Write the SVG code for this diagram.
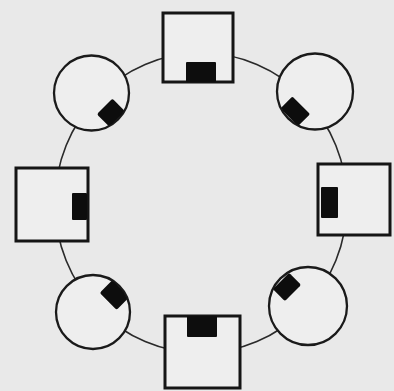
<svg xmlns="http://www.w3.org/2000/svg" width="394" height="391" viewBox="0 0 394 391">
<style>
.bg{fill:#e9e9e9}
.link{fill:none;stroke:#2a2a2a;stroke-width:1.6}
.sq{fill:#eeeeee;stroke:#151515;stroke-width:3}
.ci{fill:#eeeeee;stroke:#1a1a1a;stroke-width:2.3}
.blk{fill:#0d0d0d}
</style>
<defs>
<clipPath id="cTL"><circle cx="91.5" cy="93" r="37"/></clipPath>
<clipPath id="cTR"><circle cx="315" cy="91.5" r="37.5"/></clipPath>
<clipPath id="cBL"><circle cx="93" cy="312" r="36.5"/></clipPath>
<clipPath id="cBR"><circle cx="308" cy="306" r="38.5"/></clipPath>
</defs>
<rect class="bg" x="0" y="0" width="394" height="391"/>
<g id="connectors">
<path class="link" d="M347,203 A146,150 0 0 1 304.2,309.1"/>
<path class="link" d="M304.2,309.1 A146,150 0 0 1 201,353"/>
<path class="link" d="M201,353 A146,150 0 0 1 97.8,309.1"/>
<path class="link" d="M97.8,309.1 A146,150 0 0 1 55,203"/>
<path class="link" d="M55,203 A146,150 0 0 1 97.8,96.9"/>
<path class="link" d="M97.8,96.9 A146,150 0 0 1 201,53"/>
<path class="link" d="M201,53 A146,150 0 0 1 304.2,96.9"/>
<path class="link" d="M304.2,96.9 A146,150 0 0 1 347,203"/>
</g>
<g id="node-top">
<rect class="sq" x="163" y="13" width="70" height="69"/>
<rect class="blk" x="186" y="62" width="30" height="20" rx="1"/>
</g>
<g id="node-top-right">
<circle class="ci" cx="315" cy="91.5" r="38"/>
<g clip-path="url(#cTR)"><rect class="blk" x="-12.5" y="-8.5" width="25" height="17" rx="1.5" transform="translate(295.2,111.3) rotate(45)"/></g>
</g>
<g id="node-right">
<rect class="sq" x="318" y="164" width="72" height="71"/>
<rect class="blk" x="321" y="187" width="17" height="31" rx="1"/>
</g>
<g id="node-bottom-right">
<circle class="ci" cx="308" cy="306" r="39"/>
<g clip-path="url(#cBR)"><rect class="blk" x="-11.5" y="-8.5" width="23" height="17" rx="2" transform="translate(287,287) rotate(-45)"/></g>
</g>
<g id="node-bottom">
<rect class="sq" x="165" y="316" width="75" height="72"/>
<rect class="blk" x="187" y="316" width="30" height="21" rx="1"/>
</g>
<g id="node-bottom-left">
<circle class="ci" cx="93" cy="312" r="37"/>
<g clip-path="url(#cBL)"><rect class="blk" x="-12" y="-9" width="24" height="18" rx="2" transform="translate(114.5,295) rotate(45)"/></g>
</g>
<g id="node-left">
<rect class="sq" x="16" y="168" width="72" height="73"/>
<rect class="blk" x="72" y="193" width="15" height="27" rx="1"/>
</g>
<g id="node-top-left">
<circle class="ci" cx="91.5" cy="93" r="37.5"/>
<g clip-path="url(#cTL)"><rect class="blk" x="-11" y="-9" width="22" height="18" rx="2" transform="translate(111,112.8) rotate(-45)"/></g>
</g>
</svg>
